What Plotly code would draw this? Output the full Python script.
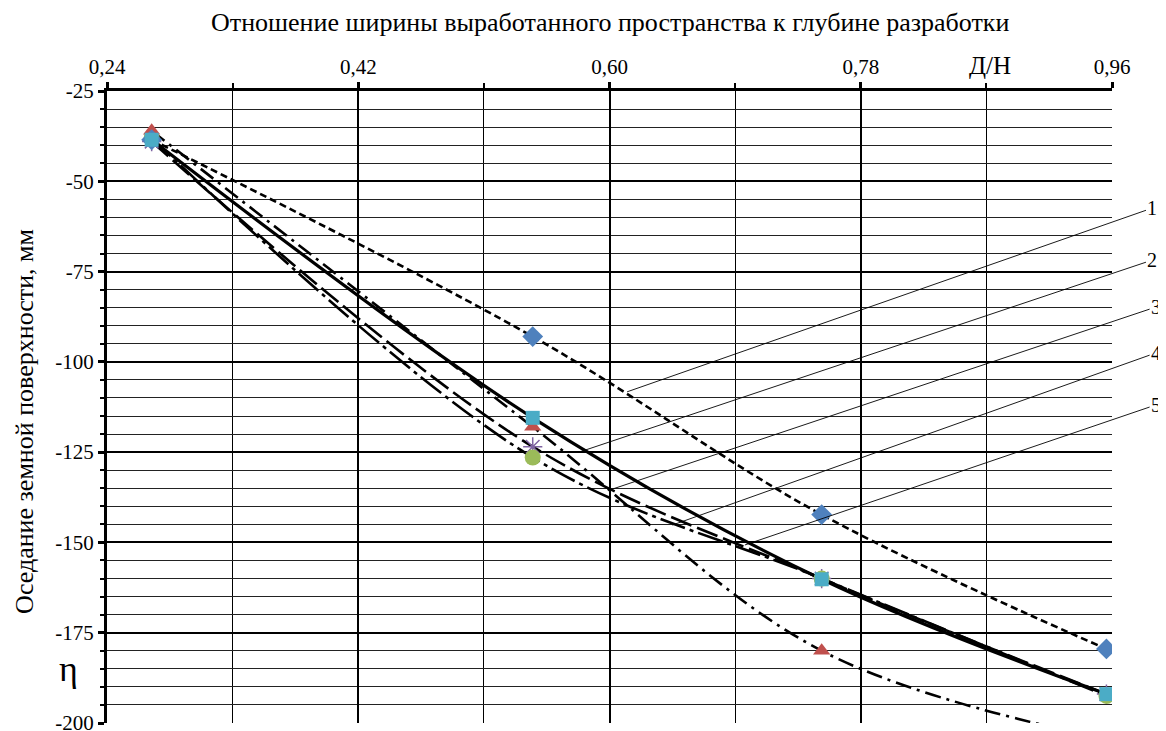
import plotly.graph_objects as go

# D/H ratio at which the settlements were measured
ratio = [0.272, 0.545, 0.752, 0.956]

# surface settlement, mm (five methods / series)
s1_diamond = [-38.5, -93.0, -142.3, -179.5]
s2_square = [-38.5, -115.5, -160.2, -192.0]
s3_triangle = [-36.0, -118.0, -180.0, -204.5]
s4_star = [-39.0, -123.5, -160.0, -192.0]
s5_circle = [-38.0, -126.5, -160.0, -192.5]

x_ticks = [0.24, 0.42, 0.60, 0.78, 0.96]
x_ticktext = ["0,24", "0,42", "0,60", "0,78", "0,96"]
x_minor = [0.33, 0.51, 0.69, 0.87]
y_ticks = [-200, -175, -150, -125, -100, -75, -50, -25]
y_ticktext = ["-200", "-175", "-150", "-125", "-100", "-75", "-50", "-25"]

labels = ["1", "2", "3", "4", "5"]

series = [
    dict(y=s1_diamond, dash="7px,4px", width=2.6, sym="diamond", color="#4F81BD", size=16),
    dict(y=s2_square, dash="solid", width=3.2, sym="square", color="#4BACC6", size=14),
    dict(y=s3_triangle, dash="16px,6px,3px,6px", width=2.6, sym="triangle-up", color="#C0504D", size=15),
    dict(y=s4_star, dash="22px,6px", width=2.6, sym="asterisk-open", color="#8064A2", size=16),
    dict(y=s5_circle, dash="26px,5px,4px,5px", width=2.6, sym="circle", color="#9BBB59", size=16),
]

fig = go.Figure()
for s in series:
    fig.add_trace(go.Scatter(x=ratio, y=s["y"], mode="lines",
                             line=dict(color="black", width=s["width"], dash=s["dash"],
                                       shape="spline", smoothing=1.0),
                             hoverinfo="skip"))

marker_order = [3, 4, 2, 0, 1]
for i in marker_order:
    s = series[i]
    if s["sym"] == "asterisk-open":
        mk = dict(symbol=s["sym"], size=s["size"], color=s["color"],
                  line=dict(color=s["color"], width=1.5))
    else:
        mk = dict(symbol=s["sym"], size=s["size"], color=s["color"], line=dict(width=0))
    fig.add_trace(go.Scatter(x=ratio, y=s["y"], mode="markers", marker=mk))

# the page body adds an 8px offset, so margins are reduced accordingly
fig.update_layout(
    width=1166, height=731,
    margin=dict(l=99, r=62, t=83, b=16, autoexpand=False),
    paper_bgcolor="white", plot_bgcolor="white",
    showlegend=False,
    font=dict(family="Liberation Serif", color="black"),
)

fig.update_xaxes(
    side="top", range=[0.24, 0.96], tickvals=x_ticks, ticktext=x_ticktext,
    showgrid=True, gridcolor="black", gridwidth=2.2,
    showline=True, linecolor="black", linewidth=3,
    ticks="outside", ticklen=6, tickwidth=2.5, tickcolor="black",
    tickfont=dict(size=21, family="Liberation Serif"),
    minor=dict(tickvals=x_minor, showgrid=True, gridcolor="black", gridwidth=1.3,
               ticks="outside", ticklen=5, tickwidth=2, tickcolor="black"),
    zeroline=False, automargin=False,
)
fig.update_yaxes(
    range=[-200, -25], tickvals=y_ticks, ticktext=y_ticktext,
    showgrid=True, gridcolor="black", gridwidth=2.2,
    showline=True, linecolor="black", linewidth=3,
    ticks="outside", ticklen=6, tickwidth=2.5, tickcolor="black",
    tickfont=dict(size=21, family="Liberation Serif"),
    minor=dict(dtick=5, tick0=0, showgrid=True, gridcolor="#222222", gridwidth=1.3,
               ticks="outside", ticklen=4, tickwidth=2, tickcolor="black"),
    zeroline=False, automargin=False,
)

ann = []
ann.append(dict(text="Отношение ширины выработанного пространства к глубине разработки",
                xref="paper", yref="paper", x=0.5, y=1.109, xanchor="center", yanchor="middle",
                showarrow=False, font=dict(size=26, family="Liberation Serif")))
ann.append(dict(text="Д/Н", xref="paper", yref="paper", x=0.8786, y=1.0396,
                xanchor="center", yanchor="middle", showarrow=False,
                font=dict(size=25, family="Liberation Serif")))
ann.append(dict(text="Оседание земной поверхности, мм", xref="paper", yref="paper",
                x=-0.0816, y=0.478, xanchor="center", yanchor="middle", textangle=-90,
                showarrow=False, font=dict(size=26, family="Liberation Serif")))
ann.append(dict(text="η", xref="paper", yref="paper", x=-0.0388, y=0.085,
                xanchor="center", yanchor="middle", showarrow=False,
                font=dict(size=36, family="Liberation Serif")))

# leader lines: (tip x, tip y, label x, label y)
leaders = [
    (0.6126, -108.3, 0.989, -57.4),
    (0.579, -124.9, 0.989, -71.8),
    (0.600, -135.5, 0.9916, -84.8),
    (0.645, -145.2, 0.9916, -97.5),
    (0.697, -150.7, 0.9916, -111.9),
]
for lab, (tx, ty, lx, ly) in zip(labels, leaders):
    ann.append(dict(text=lab, x=tx, y=ty, xref="x", yref="y", axref="x", ayref="y",
                    ax=lx, ay=ly, showarrow=True, arrowhead=0, arrowwidth=0.9,
                    arrowcolor="black", standoff=0,
                    font=dict(size=20, family="Liberation Serif")))
fig.update_layout(annotations=ann)

fig.write_html("out.html")
